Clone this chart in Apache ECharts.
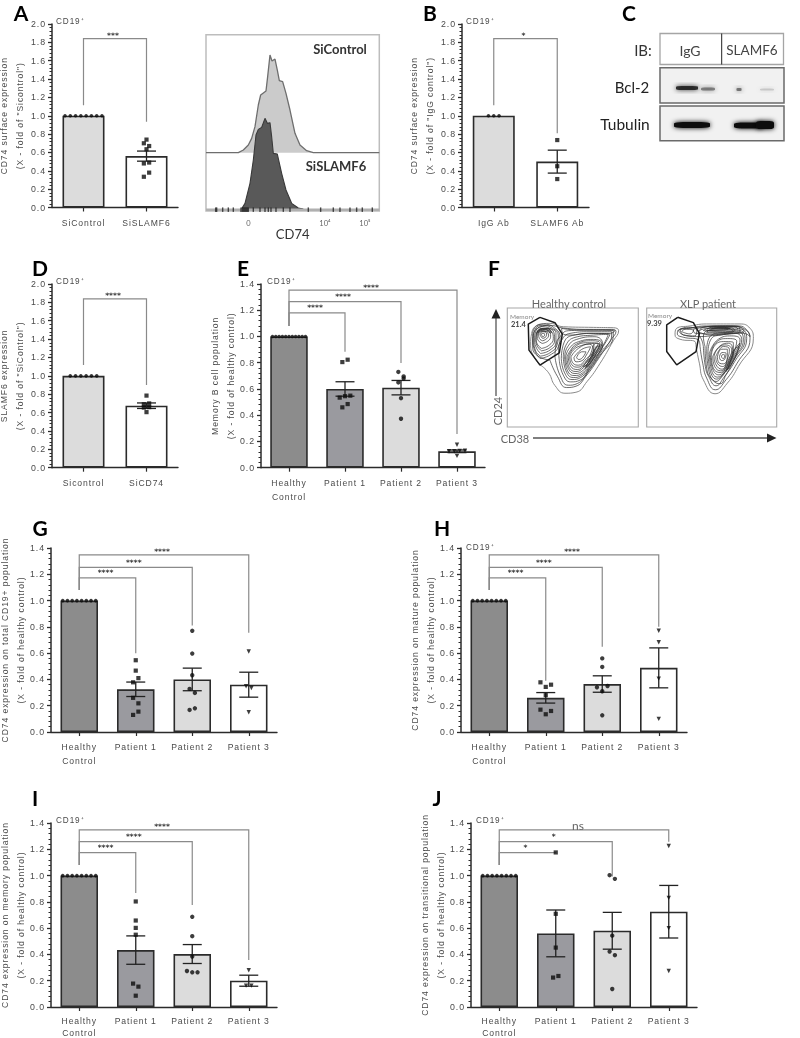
<!DOCTYPE html>
<html><head><meta charset="utf-8">
<style>
html,body{margin:0;padding:0;background:#fff}
#chart{width:800px;height:1038px;filter:blur(.4px)}
text[style*="Liberation"]{letter-spacing:.9px}
</style>
<script src="https://cdn.jsdelivr.net/npm/echarts@6/dist/echarts.min.js"></script>
</head><body><div id="chart"></div>
<script>
// ---------- bar panel data (rows of points are listed left to right) ----------
const A_categories = ['SiControl', 'SiSLAMF6'];
const A_means = [1.0, 0.56];
const A_sem = [0, 0.055];
const A_points = [[[1,1,1,1,1,1,1,1]], [[.74],[.70,.67],[.635],[.48,.49],[.335,.38]]];
const A_brackets = [[0,1,1.84,1.115,.935,'***']];

const B_categories = ['IgG Ab', 'SLAMF6 Ab'];
const B_means = [1.0, 0.50];
const B_sem = [0, 0.125];
const B_points = [[[1,1,1]], [[.735],[.45],[.31]]];
const B_brackets = [[0,1,1.84,1.115,.81,'*']];

const D_categories = ['Sicontrol', 'SiCD74'];
const D_means = [1.0, 0.675];
const D_sem = [0, 0.03];
const D_points = [[[1,1,1,1,1,1]], [[.785],[.69,.70],[.655,.66],[.605]]];
const D_brackets = [[0,1,1.837,1.118,.90,'****']];

const patients = ['Healthy\nControl', 'Patient 1', 'Patient 2', 'Patient 3'];

const E_means = [1.0, 0.60, 0.61, 0.125];
const E_sem = [0, 0.055, 0.055, 0.01];
const E_points = [[[1,1,1,1,1,1,1,1,1,1,1]],
  [[.805,.823],[.534,.545,.549],[.46,.485]],
  [[.73,.695],[.65,.68],[.53],[.373]],
  [[.175],[.125,.125,.128,.13],[.09]]];
const E_brackets = [[0,3,1.354,1.08,.257,'****'],[0,2,1.265,1.08,.798,'****'],[0,1,1.18,1.08,.884,'****']];

const G_means = [1.0, 0.325, 0.40, 0.36];
const G_sem = [0, 0.055, 0.086, 0.095];
const G_points = [[[1,1,1,1,1,1,1,1]],
  [[.546],[.467],[.378,.41],[.26,.218],[.13,.155]],
  [[.77],[.597],[.432],[.328,.297],[.168,.18]],
  [[.612],[.348,.335],[.15]]];
const G_brackets = [[0,3,1.347,1.08,.755,'****'],[0,2,1.252,1.08,.81,'****'],[0,1,1.172,1.08,.60,'****']];

const H_means = [1.0, 0.26, 0.365, 0.488];
const H_sem = [0, 0.04, 0.0625, 0.152];
const H_points = [[[1,1,1,1,1,1,1,1]],
  [[.378,.343,.36],[.28],[.17,.135,.16]],
  [[.56],[.495],[.34,.31,.35],[.127]],
  [[.77],[.683],[.406],[.10]]];
const H_brackets = [[0,3,1.347,1.08,.80,'****'],[0,2,1.252,1.08,.648,'****'],[0,1,1.172,1.08,.39,'****']];

const I_means = [1.0, 0.433, 0.403, 0.20];
const I_sem = [0, 0.108, 0.072, 0.042];
const I_points = [[[1,1,1,1,1,1,1,1]],
  [[.803],[.658],[.602],[.55],[.178,.155],[.086]],
  [[.686],[.539],[.384],[.274,.264,.264]],
  [[.28],[.163,.163]]];
const I_brackets = [[0,3,1.347,1.08,.358,'****'],[0,2,1.258,1.08,.776,'****'],[0,1,1.174,1.08,.867,'****']];

const J_means = [1.0, 0.56, 0.58, 0.725];
const J_sem = [0, 0.178, 0.14, 0.20];
const J_points = [[[1,1,1,1,1,1,1,1]],
  [[1.176],[.709],[.452],[.224,.236]],
  [[1.003,.975],[.543],[.422,.394],[.137]],
  [[1.225],[.83],[.60],[.274]]];
const J_brackets = [[0,3,1.347,1.08,1.258,'ns'],[0,2,1.258,1.08,.992,'*'],[0,1,1.174,1.08,1.174,'*']];

// ---------- flow cytometry histogram (panel A) ----------
const hist_SiControl = [[18,368],[115,368],[130,360],[145,345],[155,325],[165,290],[175,225],[182,195],[198,183],[203,140],[210,75],[216,93],[225,87],[232,120],[238,152],[248,155],[258,190],[270,240],[285,310],[300,345],[320,362],[340,368],[538,368]];
const hist_SiSLAMF6 = [[125,536],[135,520],[150,460],[160,390],[168,315],[175,298],[185,292],[195,265],[202,280],[210,278],[215,320],[220,370],[232,372],[245,430],[258,480],[275,520],[295,534],[310,537]];
const hist_baseline = [[18,539],[538,539]];
const hist_rug = [47,50,68,85,100,123,127,130,133,136,139,142,145,160,180,195,205,213,228,250,270,325,362,400,420,450,470,487,517];
const hist_ticks = {145:'0', 375:'10\u2074', 495:'10\u2075'};

// ---------- western blot bands (panel C) ----------
const blot_bands = [[687,88],[708,89],[739,89.5],[767,89.5],[692,125],[749,125.5],[765,125]];
const blot_levels = [.8,.45,.5,.14,1,1,1];

// ---------- contour plots (panel F) ----------
const F_healthy_gate = [[120,52],[165,68],[187,102],[178,158],[120,195],[87,150],[85,72],[120,52]];
const F_healthy_outer = [[122,195],[146,218],[165,256],[195,279],[228,276],[262,243],[300,190],[340,122],[356,92],[340,83],[280,82],[190,80],[150,70],[115,75],[95,100],[92,135],[102,170]];
const F_healthy_rings = [
 [[150,180],[172,228],[200,262],[228,258],[258,228],[296,175],[332,120],[348,94],[335,88],[270,88],[190,84],[150,76],[118,82],[100,105],[98,135],[110,165]],
 [[165,170],[180,225],[205,255],[232,250],[262,218],[298,168],[340,105],[340,92],[270,90],[205,92],[180,110],[168,135]],
 [[178,180],[190,225],[212,245],[240,240],[270,205],[300,160],[335,105],[335,95],[270,95],[210,100],[185,120],[176,150]],
 [[184,175],[194,218],[216,238],[242,232],[272,198],[304,148],[330,103],[276,100],[218,106],[192,128]],
 [[190,170],[198,212],[220,232],[245,225],[275,190],[310,135],[325,103],[280,105],[225,112],[198,135]],
 [[194,170],[201,208],[222,226],[248,218],[276,182],[308,132],[285,110],[230,118],[203,140]],
 [[197,170],[205,205],[225,220],[250,210],[278,175],[305,130],[280,118],[235,125],[208,145]],
 [[201,170],[208,202],[228,214],[251,202],[279,168],[300,130],[272,122],[230,132],[212,150]],
 [[205,170],[212,198],[232,208],[252,195],[280,160],[295,130],[262,128],[225,140]],
 [[209,170],[216,194],[234,201],[254,188],[281,154],[282,130],[245,136],[220,150]],
 [[213,170],[220,190],[236,195],[255,180],[280,148],[268,132],[235,145]],
 [[222,172],[228,185],[243,183],[262,160],[272,140],[245,148]],
 [[230,172],[236,178],[248,172],[258,155],[245,155]],
 [[255,205],[270,192],[290,160],[305,135],[296,135],[278,165]],
 [[250,200],[264,190],[284,160],[300,132],[288,130],[270,165]],
 [[258,200],[275,182],[292,152],[300,138],[286,145],[268,180]],
 [[185,85],[240,90],[320,90],[345,92],[330,100],[270,100],[210,105],[188,100]],
 [[120,175],[150,165],[175,140],[180,110],[165,85],[130,72],[105,82],[98,110],[102,145]],
 [[121,168],[150,158],[172,132],[175,105],[158,85],[128,76],[106,87],[101,115],[106,150]],
 [[122,160],[150,150],[168,125],[168,100],[150,85],[125,80],[108,92],[104,120],[110,145]],
 [[124,152],[149,143],[164,120],[162,98],[142,85],[120,86],[110,102],[108,125]],
 [[125,145],[148,135],[160,115],[155,95],[135,85],[115,92],[108,112],[112,132]],
 [[127,130],[145,122],[152,108],[145,93],[128,88],[115,97],[112,115]],
 [[128,122],[140,116],[146,105],[138,95],[125,92],[116,102],[118,115]],
 [[128,115],[138,110],[140,102],[130,95],[120,102]],
 [[128,110],[134,106],[132,100],[124,102]],
 [[112,95],[125,86],[145,86],[155,98],[140,90],[122,92]],
 [[110,100],[122,89],[142,88],[152,100],[140,94],[122,95]]
];
const F_xlp_gate = [[113,52],[160,68],[178,100],[168,155],[110,195],[80,155],[80,75],[113,52]];
const F_xlp_outer = [[168,140],[178,190],[190,240],[225,282],[262,250],[295,200],[340,115],[330,85],[300,72],[200,72],[150,78],[110,85],[105,105],[120,118],[165,125]];
const F_xlp_rings = [
 [[180,140],[188,190],[200,235],[226,270],[258,240],[290,192],[330,115],[320,90],[295,78],[200,78],[150,84],[115,90],[112,102],[130,112],[175,120]],
 [[190,140],[196,200],[206,230],[228,258],[252,232],[284,185],[320,115],[305,88],[270,84],[200,86],[175,100],[185,120]],
 [[195,140],[200,205],[217,240],[240,252],[258,225],[281,182],[315,116],[300,92],[260,90],[205,92],[190,110]],
 [[200,150],[204,200],[228,245],[250,225],[278,180],[310,118],[295,95],[250,98],[210,110]],
 [[204,155],[208,200],[230,238],[252,220],[278,175],[305,119],[285,100],[245,105],[215,115]],
 [[208,160],[212,200],[232,232],[255,215],[278,170],[300,120],[275,108],[235,118]],
 [[211,165],[216,202],[236,225],[258,205],[279,162],[290,124],[262,116],[228,128]],
 [[214,170],[220,205],[240,218],[262,195],[280,155],[280,128],[250,125],[222,140]],
 [[218,170],[224,200],[242,213],[262,190],[278,152],[266,130],[240,138]],
 [[222,170],[228,195],[245,208],[262,185],[275,150],[255,135],[232,148]],
 [[227,171],[233,192],[248,200],[262,178],[268,148],[250,140],[238,150]],
 [[232,172],[238,190],[250,192],[262,170],[262,148],[245,148]],
 [[238,172],[244,182],[254,178],[258,160],[246,158]],
 [[244,172],[250,176],[254,166],[248,164]],
 [[262,210],[276,190],[292,158],[300,130],[290,140],[272,180]],
 [[258,215],[272,195],[288,165],[296,140],[282,150],[266,185]],
 [[120,88],[150,85],[200,80],[280,78],[320,92],[330,110],[310,100],[250,104],[170,110],[130,105]],
 [[160,88],[220,80],[290,80],[312,95],[300,98],[240,102],[165,100]],
 [[175,95],[210,105],[260,100],[300,95],[295,80],[240,78],[190,82]],
 [[190,92],[240,95],[285,92],[275,84],[220,82]],
 [[200,92],[260,90],[295,88],[280,80],[220,80]],
 [[215,86],[270,86],[250,82]],
 [[210,90],[250,90],[265,87],[235,85]],
 [[200,98],[240,98],[280,96],[270,86],[220,84]],
 [[115,92],[130,105],[165,108],[170,90],[140,82]],
 [[125,95],[150,102],[160,92],[135,88]]
];

// ---------- layout ----------
const LS = '"Liberation Sans"';
const greyText = '#4a4a4a', darkLine = '#2b2b2b';
const C2 = ['#dcdcdc','#ffffff'], C4 = ['#8c8c8c','#9a9a9f','#dcdcdc','#ffffff'];
const M2 = ['circle','rect'], M4 = ['circle','rect','circle','triangle'];
const panels = [
 {left:52,  top:24,  w:126, h:183.5, max:2,   lh:14, cats:A_categories, means:A_means, sem:A_sem, pts:A_points, br:A_brackets, colors:C2, marks:M2, bw:42, gap:24, name:'CD74 surface expression\n(X - fold of "Sicontrol")'},
 {left:462, top:24,  w:127, h:183.5, max:2,   lh:14, cats:B_categories, means:B_means, sem:B_sem, pts:B_points, br:B_brackets, colors:C2, marks:M2, bw:42, gap:24, name:'CD74 surface expression\n(X - fold of "IgG control")'},
 {left:52,  top:284, w:126, h:183.7, max:2,   lh:14, cats:D_categories, means:D_means, sem:D_sem, pts:D_points, br:D_brackets, colors:C2, marks:M2, bw:42, gap:24, name:'SLAMF6 expression\n(X - fold of "SiControl")'},
 {left:261, top:284, w:224, h:183.7, max:1.4, lh:14, cats:patients, means:E_means, sem:E_sem, pts:E_points, br:E_brackets, colors:C4, marks:M4, bw:37.5, gap:20, name:'Memory B cell population\n(X - fold of healthy control)'},
 {left:51,  top:548, w:226, h:184,   max:1.4, lh:14, cats:patients, means:G_means, sem:G_sem, pts:G_points, br:G_brackets, colors:C4, marks:M4, bw:37.5, gap:20, name:'CD74 expression on total CD19+ population\n(X - fold of healthy control)'},
 {left:461, top:548, w:226, h:184,   max:1.4, lh:14, cats:patients, means:H_means, sem:H_sem, pts:H_points, br:H_brackets, colors:C4, marks:M4, bw:37.5, gap:20, name:'CD74 expression on mature population\n(X - fold of healthy control)'},
 {left:51,  top:823, w:226, h:184,   max:1.4, lh:12, cats:patients, means:I_means, sem:I_sem, pts:I_points, br:I_brackets, colors:C4, marks:M4, bw:37.5, gap:20, name:'CD74 expression on memory population\n(X - fold of healthy control)'},
 {left:471, top:823, w:226, h:184,   max:1.4, lh:12, cats:patients, means:J_means, sem:J_sem, pts:J_points, br:J_brackets, colors:C4, marks:M4, bw:37.5, gap:21, name:'CD74 expression on transitional population\n(X - fold of healthy control)'}
];

const grid=[], xAxis=[], yAxis=[], series=[];
panels.forEach((p,i)=>{
  grid.push({left:p.left, top:p.top, width:p.w, height:p.h, outerBoundsMode:'none'});
  xAxis.push({gridIndex:i, type:'category', data:p.cats, boundaryGap:true,
    axisLine:{show:true, onZero:false, lineStyle:{color:darkLine,width:1.4}},
    axisTick:{show:true, alignWithLabel:true, length:4, lineStyle:{color:darkLine,width:1.2}},
    axisLabel:{show:true, interval:0, margin:8, fontSize:8.6, fontFamily:LS, color:greyText, lineHeight:p.lh}});
  yAxis.push({gridIndex:i, type:'value', min:0, max:p.max, interval:.2, splitLine:{show:false},
    name:p.name, nameLocation:'middle', nameGap:p.gap, nameRotate:90,
    nameTextStyle:{fontSize:8.6, fontFamily:LS, color:greyText, lineHeight:16},
    axisLine:{show:true, lineStyle:{color:darkLine,width:1.5}},
    axisTick:{show:true, length:4, lineStyle:{color:darkLine,width:1.3}},
    minorTick:{show:true, splitNumber:5, length:2.5, lineStyle:{color:darkLine,width:1}},
    axisLabel:{show:true, margin:6, fontSize:8.8, fontFamily:LS, color:greyText, formatter:v=>v.toFixed(1)}});
  series.push({type:'bar', xAxisIndex:i, yAxisIndex:i, barWidth:p.bw, z:2,
    data:p.means.map((v,c)=>({value:v, itemStyle:{color:p.colors[c]}})),
    itemStyle:{borderColor:darkLine, borderWidth:1.6}});
  const pts=[];
  p.pts.forEach((rows,c)=>rows.forEach(row=>{
    const n=row.length, sp=n>1?Math.min(5.3, p.bw*.88/(n-1)):0;
    row.forEach((v,k)=>{
      const m=p.marks[c], tri=m==='triangle', ctrl=c===0;
      pts.push({value:[c,v], symbol:m, symbolRotate:tri?180:0,
        symbolSize:ctrl?3.6:(tri?4.4:(m==='rect'?4.2:4.4)), symbolOffset:[(k-(n-1)/2)*sp,0]});
    });
  }));
  series.push({type:'scatter', xAxisIndex:i, yAxisIndex:i, data:pts, z:5, itemStyle:{color:'#0c0c0c'}});
  series.push({type:'custom', xAxisIndex:i, yAxisIndex:i, z:4, clip:false,
    data:p.means.map((m,c)=>[c,m,p.sem[c]]),
    renderItem:(params,api)=>{
      const c=api.value(0), m=api.value(1), s=api.value(2);
      if(!s) return null;
      const hi=api.coord([c,m+s]), lo=api.coord([c,m-s]), st={stroke:'#222',lineWidth:1.3,fill:null};
      return {type:'group',children:[
        {type:'line',shape:{x1:hi[0],y1:hi[1],x2:lo[0],y2:lo[1]},style:st},
        {type:'line',shape:{x1:hi[0]-9.5,y1:hi[1],x2:hi[0]+9.5,y2:hi[1]},style:st},
        {type:'line',shape:{x1:lo[0]-9.5,y1:lo[1],x2:lo[0]+9.5,y2:lo[1]},style:st}]};
    }});
  series.push({type:'custom', xAxisIndex:i, yAxisIndex:i, z:3, clip:false,
    data:p.br.map(b=>[b[0],b[1],b[2],b[3],b[4]]),
    renderItem:(params,api)=>{
      const b=p.br[params.dataIndex];
      const a=api.coord([b[0],b[3]]), t0=api.coord([b[0],b[2]]), t1=api.coord([b[1],b[2]]), e=api.coord([b[1],b[4]]);
      const ns=b[5]==='ns', top=b[0]===0&&b[2]>1.3;
      return {type:'group',children:[
        {type:'polyline',shape:{points:[a,t0,t1,e]},style:{stroke:'#8a8a8a',lineWidth:1.2,fill:null}},
        {type:'text',x:(t0[0]+t1[0])/2-(ns?6:2),y:t0[1]-(ns?-2:(top?-1:1)),
          style:{text:b[5],textAlign:'center',textVerticalAlign:'bottom',fill:ns?'#666':'#333',
                 font:ns?'12px Lato':'bold 7.5px "DejaVu Sans"'}}]};
    }});
});

// histogram grid
let g=grid.length;
grid.push({left:206,top:34.7,width:173.3,height:176.3,show:true,borderColor:'#bdbdbd',borderWidth:1.5,outerBoundsMode:'none'});
xAxis.push({gridIndex:g,type:'value',min:18,max:538,position:'bottom',splitLine:{show:false},
  axisLine:{show:false,onZero:false},axisTick:{show:false},
  name:'CD74',nameLocation:'middle',nameGap:10,nameTextStyle:{fontFamily:'Lato',fontSize:13,color:'#333'},
  axisLabel:{show:true,customValues:[145,375,495],margin:8,fontSize:7.5,fontFamily:'Lato',color:'#666',formatter:v=>hist_ticks[v]}});
yAxis.push({gridIndex:g,type:'value',min:14,max:543,inverse:true,show:false});
series.push({type:'line',xAxisIndex:g,yAxisIndex:g,data:hist_SiControl,symbol:'none',z:2,
  lineStyle:{color:'#6e6e6e',width:1.3},areaStyle:{color:'#cbcbcb',opacity:1,origin:368}});
series.push({type:'line',xAxisIndex:g,yAxisIndex:g,data:hist_SiSLAMF6,symbol:'none',z:3,
  lineStyle:{color:'#3a3a3a',width:1.1},areaStyle:{color:'#595959',opacity:1,origin:537}});
series.push({type:'line',xAxisIndex:g,yAxisIndex:g,data:hist_baseline,symbol:'none',z:3,lineStyle:{color:'#b0b0b0',width:2.5}});
series.push({type:'scatter',xAxisIndex:g,yAxisIndex:g,z:4,symbol:'rect',symbolSize:[1.4,4.5],
  data:hist_rug.map(x=>[x,539]),itemStyle:{color:'#222'}});

// western blot grid
g=grid.length;
grid.push({left:660,top:67.7,width:124,height:73,show:false,outerBoundsMode:'none'});
xAxis.push({gridIndex:g,type:'value',min:660,max:784,show:false});
yAxis.push({gridIndex:g,type:'value',min:67.7,max:140.7,inverse:true,show:false});
const bandSize=[[22,4],[14,3],[5,3],[14,2],[36,6],[30,6],[18,8]];
series.push({type:'scatter',xAxisIndex:g,yAxisIndex:g,z:4,clip:true,
  data:blot_bands.map((b,i)=>({value:b,symbol:'roundRect',symbolSize:bandSize[i],
    itemStyle:{color:'#111',opacity:blot_levels[i],shadowBlur:5,shadowColor:'#111'}}))});

// contour grids
function contourPanel(l,w,xmin,xmax,ymax,outer,rings,gate){
  const gi=grid.length;
  grid.push({left:l,top:308,width:w,height:119,show:true,borderColor:'#a8a8a8',borderWidth:1.1,outerBoundsMode:'none'});
  xAxis.push({gridIndex:gi,type:'value',min:xmin,max:xmax,show:false});
  yAxis.push({gridIndex:gi,type:'value',min:24,max:ymax,inverse:true,show:false});
  const close=a=>a.concat([a[0]]);
  series.push({type:'line',xAxisIndex:gi,yAxisIndex:gi,data:close(outer),smooth:.5,symbol:'none',z:2,lineStyle:{color:'#8a8a8a',width:1}});
  rings.forEach(r=>series.push({type:'line',xAxisIndex:gi,yAxisIndex:gi,data:close(r),smooth:.5,symbol:'none',z:3,lineStyle:{color:'#2e2e2e',width:.7}}));
  series.push({type:'line',xAxisIndex:gi,yAxisIndex:gi,data:gate,symbol:'none',z:5,lineStyle:{color:'#1c1c1c',width:1.5}});
}
contourPanel(507.3,131,22,415,380,F_healthy_outer,F_healthy_rings,F_healthy_gate);
contourPanel(646.7,130,20,410,382,F_xlp_outer,F_xlp_rings,F_xlp_gate);

// free text and boxes
const txt=(text,x,y,font,fill,extra)=>Object.assign({type:'text',x,y,z:20,
  style:{text,font,fill,textAlign:(extra&&extra.align)||'center',textVerticalAlign:'middle'}},extra&&extra.rotation?{rotation:extra.rotation}:{});
const cd19='CD19\u207A', small='8.2px "Liberation Sans"', big='bold 21px Lato';
const rect=(x,y,w,h,stroke,fill,lw)=>({type:'rect',z:1,shape:{x,y,width:w,height:h},style:{stroke,fill:fill||'none',lineWidth:lw||1.3}});
const graphic=[
 txt('A',21,12,big,'#000'),txt('B',430,12,big,'#000'),txt('C',629,12,big,'#000'),
 txt('D',40,267,big,'#000'),txt('E',243,267,big,'#000'),txt('F',494,267,big,'#000'),
 txt('G',40,527,big,'#000'),txt('H',442,527,big,'#000'),txt('I',35,797,big,'#000'),txt('J',437,797,big,'#000'),
 txt(cd19,56,21,small,greyText,{align:'left'}),txt(cd19,466,21,small,greyText,{align:'left'}),
 txt(cd19,56,281,small,greyText,{align:'left'}),txt(cd19,267,281,small,greyText,{align:'left'}),
 txt(cd19,466,547,small,greyText,{align:'left'}),txt(cd19,56,820,small,greyText,{align:'left'}),
 txt(cd19,476,820,small,greyText,{align:'left'}),
 txt('SiControl',340,49,'bold 13px Lato','#333'),txt('SiSLAMF6',336,166,'bold 13px Lato','#333'),
 // panel C
 rect(660,33.5,123.5,31,'#a5a5a5'),
 {type:'line',z:2,shape:{x1:721.7,y1:33.5,x2:721.7,y2:64.5},style:{stroke:'#222',lineWidth:1}},
 rect(660,67.7,124,35.3,'#6a6a6a','#f1f1f1',1.5),rect(660,106,124,34.7,'#6a6a6a','#f1f1f1',1.5),
 txt('IB:',643,50,'15px Lato','#333'),txt('IgG',690,50,'14px Lato','#444'),txt('SLAMF6',752,50,'13.5px Lato','#444'),
 txt('Bcl-2',632,87,'15px Lato','#222'),txt('Tubulin',625,124,'15.5px Lato','#222'),
 // panel F
 txt('Healthy control',569,303,'11px Lato','#666'),txt('XLP patient',708,303,'11px Lato','#666'),
 txt('Memory',510,316,'6.5px Lato','#888',{align:'left'}),txt('21.4',511,324,'bold 7.5px Lato','#444',{align:'left'}),
 txt('Memory',648,315,'6.5px Lato','#888',{align:'left'}),txt('9.39',647,323,'bold 7.5px Lato','#444',{align:'left'}),
 txt('CD38',515,438,'11px Lato','#666'),txt('CD24',497,411,'11px Lato','#666',{rotation:Math.PI/2}),
 {type:'line',z:2,shape:{x1:496,y1:396,x2:496,y2:316},style:{stroke:'#555',lineWidth:1.3}},
 {type:'polygon',z:2,shape:{points:[[496,309],[491.5,318.5],[500.5,318.5]]},style:{fill:'#222'}},
 {type:'line',z:2,shape:{x1:533,y1:438,x2:770,y2:438},style:{stroke:'#555',lineWidth:1.3}},
 {type:'polygon',z:2,shape:{points:[[776.5,438],[767,433.5],[767,442.5]]},style:{fill:'#222'}}
];

const chart=echarts.init(document.getElementById('chart'),null,{renderer:'svg'});
chart.setOption({animation:false,backgroundColor:'#fff',grid,xAxis,yAxis,series,graphic});
</script></body></html>
